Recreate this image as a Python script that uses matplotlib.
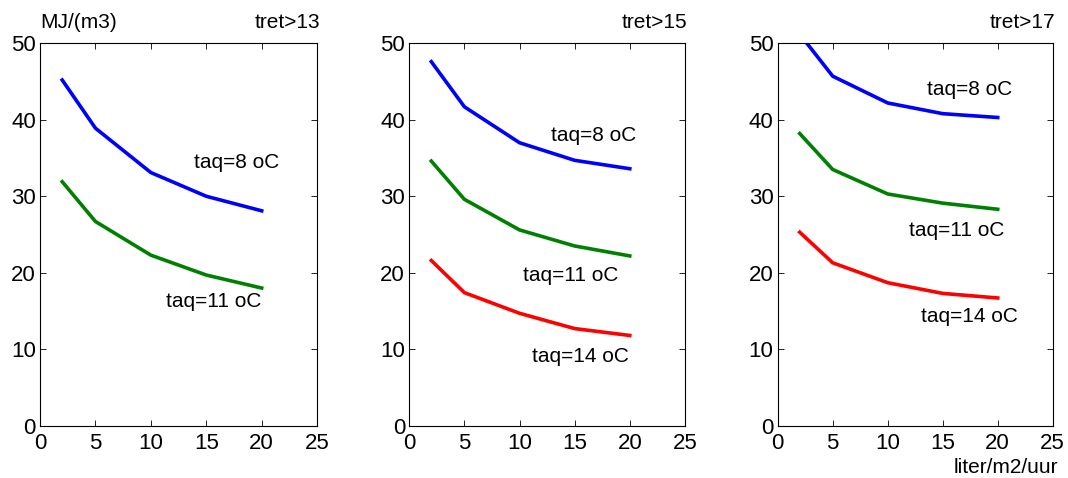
import numpy as np
import matplotlib.pyplot as plt

plt.rcParams['font.family'] = ['Liberation Sans', 'DejaVu Sans']

flow = [2, 5, 10, 15, 20]

# tret>13
e13_taq8 = [45.2, 38.9, 33.1, 30.0, 28.1]
e13_taq11 = [31.9, 26.7, 22.3, 19.7, 18.0]
# tret>15
e15_taq8 = [47.6, 41.7, 37.0, 34.7, 33.6]
e15_taq11 = [34.6, 29.6, 25.6, 23.5, 22.2]
e15_taq14 = [21.6, 17.4, 14.7, 12.7, 11.8]
# tret>17
e17_taq8 = [51.2, 45.7, 42.2, 40.8, 40.3]
e17_taq11 = [38.2, 33.5, 30.3, 29.1, 28.3]
e17_taq14 = [25.3, 21.3, 18.7, 17.3, 16.7]

titles = ['tret>13', 'tret>15', 'tret>17']
panels = [
    [(e13_taq8, 'b', 'taq=8 oC', (13.9, 34.4)),
     (e13_taq11, 'g', 'taq=11 oC', (11.4, 16.3))],
    [(e15_taq8, 'b', 'taq=8 oC', (12.9, 38.0)),
     (e15_taq11, 'g', 'taq=11 oC', (10.3, 19.7)),
     (e15_taq14, 'r', 'taq=14 oC', (11.1, 9.0))],
    [(e17_taq8, 'b', 'taq=8 oC', (13.6, 44.0)),
     (e17_taq11, 'g', 'taq=11 oC', (11.9, 25.5)),
     (e17_taq14, 'r', 'taq=14 oC', (13.0, 14.3))],
]
colors = {'b': '#0000ff', 'g': '#008000', 'r': '#ff0000'}

fig = plt.figure(figsize=(10.68, 4.78), dpi=100)
lefts = [0.0375, 0.3832, 0.7282]
widths = [0.2594, 0.2581, 0.2575]
fs = 15

for i, (series, title) in enumerate(zip(panels, titles)):
    ax = fig.add_axes([lefts[i], 0.1094, widths[i], 0.80])
    for y, c, label, pos in series:
        ax.plot(flow, y, color=colors[c], lw=2.6)
        ax.text(pos[0], pos[1], label, fontsize=fs, ha='left', va='center')
    ax.set_xlim(0, 25)
    ax.set_ylim(0, 50)
    ax.set_xticks([0, 5, 10, 15, 20, 25])
    ax.set_yticks([0, 10, 20, 30, 40, 50])
    ax.tick_params(direction='in', top=True, right=True, length=4,
                   width=0.6, labelsize=16)
    ax.tick_params(axis='x', pad=5)
    ax.tick_params(axis='y', pad=3)
    for s in ax.spines.values():
        s.set_linewidth(0.8)
    ax.text(1.01, 1.03, title, transform=ax.transAxes, ha='right',
            va='bottom', fontsize=fs)
    if i == 0:
        ax.text(0.0, 1.03, 'MJ/(m3)', transform=ax.transAxes, ha='left',
                va='bottom', fontsize=fs)
    if i == 2:
        ax.text(1.02, -0.11, 'liter/m2/uur', transform=ax.transAxes,
                ha='right', va='center', fontsize=fs)

fig.savefig('out.png', dpi=100)
